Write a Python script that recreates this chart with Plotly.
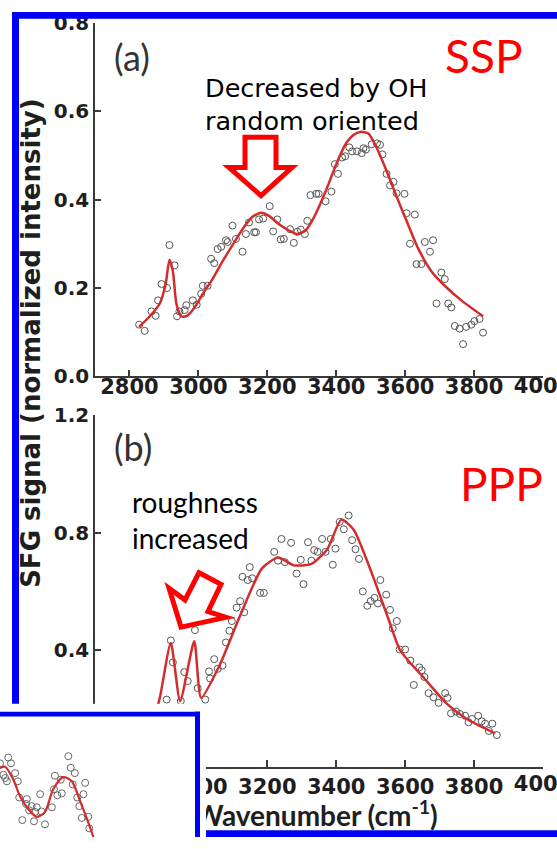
import plotly.graph_objects as go

W, H = 557, 849

# ---------------- data: panel (a) SSP ----------------
a_wn = [2828, 2844, 2864, 2876, 2883, 2893, 2909, 2916, 2931, 2938, 2945, 2960, 2965, 2984, 2995,
        3008, 3013, 3027, 3037, 3046, 3056, 3066, 3080, 3085, 3099, 3109, 3128, 3138, 3147, 3162,
        3167, 3176, 3188, 3207, 3217, 3229, 3239, 3248, 3266, 3277, 3287, 3297, 3309, 3316, 3325,
        3342, 3349, 3369, 3386, 3396, 3405, 3417, 3426, 3438, 3446, 3460, 3474, 3479, 3486, 3503,
        3518, 3527, 3534, 3546, 3556, 3566, 3575, 3598, 3604, 3614, 3628, 3633, 3647, 3657, 3672,
        3681, 3691, 3705, 3715, 3725, 3734, 3744, 3758, 3768, 3777, 3792, 3801, 3816, 3826]
a_sig = [0.117, 0.103, 0.147, 0.137, 0.172, 0.209, 0.200, 0.297, 0.251, 0.136, 0.147, 0.150, 0.161, 0.172, 0.162,
         0.187, 0.205, 0.205, 0.266, 0.256, 0.288, 0.293, 0.308, 0.304, 0.341, 0.311, 0.282, 0.322, 0.348, 0.326,
         0.326, 0.355, 0.357, 0.385, 0.328, 0.355, 0.310, 0.311, 0.333, 0.302, 0.327, 0.332, 0.322, 0.352, 0.410,
         0.413, 0.413, 0.396, 0.418, 0.480, 0.458, 0.495, 0.498, 0.518, 0.509, 0.509, 0.505, 0.516, 0.513, 0.525,
         0.527, 0.524, 0.502, 0.458, 0.432, 0.440, 0.414, 0.413, 0.369, 0.300, 0.366, 0.254, 0.254, 0.304, 0.282,
         0.308, 0.165, 0.235, 0.220, 0.165, 0.156, 0.114, 0.108, 0.073, 0.112, 0.117, 0.125, 0.130, 0.099]
a_fit_wn = [2828, 2859, 2888, 2905, 2916, 2926, 2936, 2950, 2965, 2989, 3013, 3041, 3070, 3099, 3128,
            3157, 3181, 3205, 3234, 3263, 3287, 3311, 3335, 3369, 3398, 3426, 3450, 3470, 3494, 3518,
            3546, 3575, 3604, 3638, 3676, 3715, 3763, 3826]
a_fit = [0.112, 0.136, 0.165, 0.209, 0.264, 0.238, 0.165, 0.136, 0.136, 0.156, 0.187, 0.220, 0.260, 0.297, 0.333,
         0.361, 0.370, 0.363, 0.344, 0.330, 0.322, 0.330, 0.359, 0.418, 0.476, 0.524, 0.546, 0.553, 0.549, 0.516,
         0.465, 0.407, 0.352, 0.289, 0.238, 0.205, 0.172, 0.136]

# ---------------- data: panel (b) PPP ----------------
b_wn = [2908, 2920, 2926, 2949, 2959, 2969, 2990, 2998, 3020, 3031, 3034, 3046, 3056, 3070, 3080, 3090,
        3097, 3111, 3121, 3128, 3133, 3143, 3149, 3156, 3179, 3190, 3220, 3231, 3241, 3251, 3269,
        3285, 3297, 3305, 3318, 3328, 3336, 3346, 3359, 3369, 3384, 3390, 3398, 3410, 3422, 3436,
        3446, 3456, 3466, 3477, 3490, 3500, 3511, 3521, 3528, 3545, 3556, 3564, 3576, 3584, 3600,
        3615, 3625, 3641, 3648, 3656, 3668, 3682, 3697, 3716, 3723, 3733, 3748, 3759, 3774, 3784,
        3794, 3812, 3822, 3832, 3843, 3853, 3866]
b_sig = [0.230, 0.432, 0.357, 0.225, 0.324, 0.293, 0.467, 0.269, 0.230, 0.326, 0.302, 0.368, 0.335, 0.346, 0.425, 0.465,
         0.498, 0.544, 0.566, 0.649, 0.528, 0.638, 0.682, 0.644, 0.594, 0.594, 0.734, 0.704, 0.778, 0.699, 0.765,
         0.660, 0.707, 0.624, 0.767, 0.704, 0.740, 0.734, 0.778, 0.734, 0.778, 0.690, 0.745, 0.836, 0.811, 0.858,
         0.774, 0.743, 0.710, 0.599, 0.550, 0.566, 0.577, 0.558, 0.638, 0.588, 0.536, 0.473, 0.498, 0.401, 0.401,
         0.363, 0.280, 0.340, 0.330, 0.307, 0.252, 0.238, 0.219, 0.252, 0.236, 0.183, 0.189, 0.181, 0.175, 0.153,
         0.164, 0.175, 0.156, 0.148, 0.123, 0.148, 0.109]
b_fit_wn = [2870, 2889, 2920, 2947, 2988, 3008, 3061, 3123, 3184, 3231, 3277, 3328, 3374, 3415, 3451,
            3502, 3553, 3584, 3615, 3656, 3718, 3779, 3861]
b_fit = [0.150, 0.241, 0.423, 0.225, 0.429, 0.236, 0.346, 0.522, 0.677, 0.715, 0.688, 0.693, 0.743, 0.844, 0.809,
         0.665, 0.500, 0.401, 0.355, 0.302, 0.219, 0.164, 0.115]

# ---------------- data: overlapping inset fragment ----------------
c_x = [3000, 3024, 3032, 3010, 3015, 3020, 3044, 3052, 3056, 3078, 3076, 3092, 3107, 3085, 3102, 3121,
       3117, 3151, 3065, 3099, 3131, 3160, 3157, 3167, 3180, 3177, 3199, 3206, 3218, 3212, 3248, 3243,
       3225, 3231, 3238, 3257, 3260]
c_y = [0.332, 0.358, 0.332, 0.280, 0.266, 0.251, 0.288, 0.251, 0.178, 0.171, 0.149, 0.139, 0.134, 0.120, 0.113, 0.115,
       0.193, 0.134, 0.076, 0.071, 0.057, 0.276, 0.215, 0.188, 0.197, 0.258, 0.364, 0.312, 0.288, 0.237, 0.244, 0.193,
       0.178, 0.139, 0.086, 0.091, 0.039]
c_fit_x = [2990, 3000, 3015, 3039, 3058, 3082, 3107, 3131, 3155, 3184, 3209, 3233, 3253, 3272]
c_fit = [0.300, 0.311, 0.317, 0.258, 0.185, 0.127, 0.091, 0.113, 0.215, 0.270, 0.251, 0.163, 0.083, 0.0]

x_ticks = [2800, 3000, 3200, 3400, 3600, 3800, 4000]
x_ticktext = ["2800", "3000", "3200", "3400", "3600", "3800", ""]   # last label drawn clipped at the edge
edge_tick = 4000
x_title = "Wavenumber (cm<sup>-1</sup>)"
y_title = "SFG signal (normalized intensity)"

# ---------------- styling ----------------
BLUE = "#0000f2"
RED = "#ff0000"
FIT = "#d42c2c"
AX = "#3a3a3a"
TXT = "#1e1e1e"

# pixel scale shared by both panels: 2700 cm-1 at x=95 px, 4000 cm-1 at x=543 px
X0_PX, X1_PX, WN0, WN1 = 95, 543, 2700, 4000
WN_PER_PX = (WN1 - WN0) / (X1_PX - X0_PX)
WN_EDGE = WN0 + (W - X0_PX) * WN_PER_PX
TITLE_WN = WN0 + (316 - X0_PX) * WN_PER_PX


def px(x):
    return x / W


def py(y):
    return 1 - y / H


def poly(points):
    return "M " + " L ".join(f"{px(x):.5f},{py(y):.5f}" for x, y in points) + " Z"


fig = go.Figure()

marker = dict(symbol="circle-open", size=7, color="#555555", line=dict(width=1, color="#555555"))
fig.add_trace(go.Scatter(x=a_wn, y=a_sig, mode="markers", marker=marker, xaxis="x", yaxis="y"))
fig.add_trace(go.Scatter(x=a_fit_wn, y=a_fit, mode="lines", line=dict(color=FIT, width=2.5, shape="spline", smoothing=0.6),
                         xaxis="x", yaxis="y"))
fig.add_trace(go.Scatter(x=b_wn, y=b_sig, mode="markers", marker=marker, xaxis="x2", yaxis="y2"))
fig.add_trace(go.Scatter(x=b_fit_wn, y=b_fit, mode="lines", line=dict(color=FIT, width=2.5, shape="spline", smoothing=0.6),
                         xaxis="x2", yaxis="y2"))
# x-axis title of the lower panel, in its own strip so the overlapping inset covers its first letter
fig.add_trace(go.Scatter(x=[TITLE_WN], y=[0.5], mode="text", text=[x_title],
                         textfont=dict(family="Lato", size=28, color=TXT, weight="bold"),
                         cliponaxis=False, xaxis="x3", yaxis="y3"))
marker_c = dict(symbol="circle-open", size=7, color="#666666", line=dict(width=1, color="#666666"))
fig.add_trace(go.Scatter(x=c_x, y=c_y, mode="markers", marker=marker_c, xaxis="x4", yaxis="y4"))
fig.add_trace(go.Scatter(x=c_fit_x, y=c_fit, mode="lines", line=dict(color=FIT, width=2.2, shape="spline", smoothing=0.8),
                         xaxis="x4", yaxis="y4"))

xfont = dict(family="DejaVu Sans", size=21, color=TXT, weight="bold")
yfont = dict(family="DejaVu Sans", size=20, color=TXT, weight="bold")
# the 4000 labels, cut by the right edge of the figure
for xa, ya in (("x5", "y5"), ("x6", "y6")):
    fig.add_trace(go.Scatter(x=[edge_tick], y=[0.5], mode="text", text=[str(edge_tick)], textfont=xfont,
                             cliponaxis=True, xaxis=xa, yaxis=ya))

xcommon = dict(range=[WN0, WN1], tickvals=x_ticks, ticktext=x_ticktext, showline=True, linecolor=AX,
               linewidth=1.5, ticks="inside", ticklen=7, tickwidth=1.5, tickcolor=AX, showgrid=False,
               zeroline=False, tickfont=xfont)
ycommon = dict(showline=True, linecolor=AX, linewidth=1.5, ticks="inside", ticklen=6, tickwidth=1.5,
               tickcolor=AX, showgrid=False, zeroline=False, tickfont=yfont, tickformat=".1f")
hidden = dict(visible=False, fixedrange=True)

fig.update_layout(
    width=W, height=H, margin=dict(l=0, r=0, t=0, b=0),
    paper_bgcolor="white", plot_bgcolor="white", showlegend=False,
    xaxis=dict(domain=[px(X0_PX), px(X1_PX)], anchor="y", ticklabelstandoff=-9, **xcommon),
    yaxis=dict(domain=[py(375), py(11)], anchor="x", range=[0, 0.8], dtick=0.2, **ycommon),
    xaxis2=dict(domain=[px(X0_PX), px(X1_PX)], anchor="y2", ticklabelstandoff=0, **xcommon),
    yaxis2=dict(domain=[py(777), py(415)], anchor="x2", range=[0, 1.2], dtick=0.4, **ycommon),
    xaxis3=dict(domain=[px(X0_PX), px(X1_PX)], anchor="y3", range=[WN0, WN1], **hidden),
    yaxis3=dict(domain=[0, py(812)], anchor="x3", range=[0, 1], **hidden),
    xaxis4=dict(domain=[0, px(206)], anchor="y4", range=[3000, 3600], **hidden),
    yaxis4=dict(domain=[0, py(712)], anchor="x4", range=[0, 0.6], **hidden),
    xaxis5=dict(domain=[px(X0_PX), 1], anchor="y5", range=[WN0, WN_EDGE], **hidden),
    yaxis5=dict(domain=[py(398), py(376)], anchor="x5", range=[0, 1], **hidden),
    xaxis6=dict(domain=[px(X0_PX), 1], anchor="y6", range=[WN0, WN_EDGE], **hidden),
    yaxis6=dict(domain=[py(807), py(785)], anchor="x6", range=[0, 1], **hidden),
)

annotations = [
    dict(text=y_title, x=px(31.5), y=py(341), textangle=-90,
         font=dict(family="DejaVu Sans", size=26, color=TXT, weight="bold")),
    dict(text="(a)", x=px(132), y=py(46), font=dict(family="Lato", size=36, color="#333333")),
    dict(text="(b)", x=px(133), y=py(448), font=dict(family="Lato", size=36, color="#333333")),
    dict(text="SSP", x=px(484), y=py(45), font=dict(family="Lato", size=46, color=RED)),
    dict(text="PPP", x=px(501), y=py(485), font=dict(family="Lato", size=46, color=RED)),
    dict(text="Decreased by OH<br>random oriented", x=px(204), y=py(95), xanchor="left", align="left",
         font=dict(family="DejaVu Sans", size=25.5, color="#000000")),
    dict(text="roughness<br>increased", x=px(131), y=py(523), xanchor="left", align="left",
         font=dict(family="Lato", size=28, color="#000000")),
]
for a in annotations:
    a.setdefault("xanchor", "center")
    a.update(xref="paper", yref="paper", yanchor="middle", showarrow=False, borderpad=0)
fig.update_layout(annotations=annotations)

arrow_a = [(245, 129), (276, 129), (276, 160), (292, 160), (261, 189), (229, 160), (245, 160)]
arrow_b = [(181, 633), (169, 593), (185, 605), (199, 577), (221, 589), (208, 617), (226, 623)]

shapes = [
    dict(type="path", path=poly(arrow_a), line=dict(color=RED, width=5), fillcolor="rgba(0,0,0,0)"),
    dict(type="path", path=poly(arrow_b), line=dict(color=RED, width=5), fillcolor="rgba(0,0,0,0)"),
    # outer blue frame
    dict(type="rect", x0=px(12), x1=1, y0=py(7), y1=1, fillcolor=BLUE),
    dict(type="rect", x0=px(12), x1=px(19), y0=py(712), y1=1, fillcolor=BLUE),
    dict(type="rect", x0=px(206), x1=1, y0=0, y1=py(842), fillcolor=BLUE),
    # inset frame
    dict(type="rect", x0=0, x1=px(200), y0=py(725), y1=py(720), fillcolor=BLUE),
    dict(type="rect", x0=px(195), x1=px(200), y0=0, y1=py(720), fillcolor=BLUE),
]
for s in shapes:
    s.update(xref="paper", yref="paper", layer="above")
    if s["type"] == "rect":
        s["line"] = dict(width=0)
fig.update_layout(shapes=shapes)

fig.write_html("out.html")
